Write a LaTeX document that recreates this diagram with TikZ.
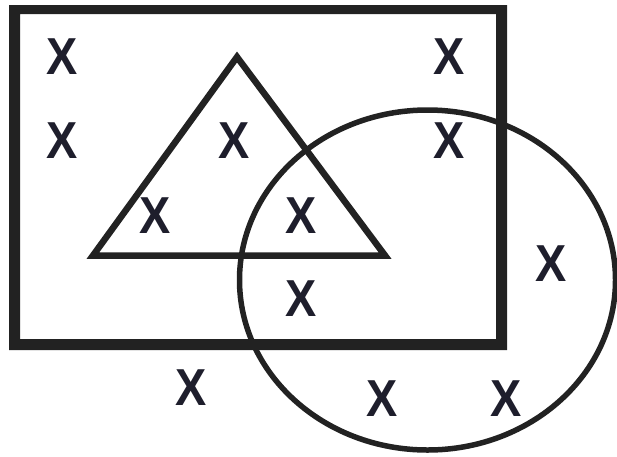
\documentclass[tikz,border=0pt]{standalone}
\usepackage{fontspec}
\setmainfont{Liberation Sans}
\usetikzlibrary{shapes.geometric}
\definecolor{ink}{HTML}{222222}
\definecolor{xcol}{HTML}{1E1E2C}
\begin{document}
\begin{tikzpicture}[x=1pt,y=-1pt,
  xlab/.style={inner sep=0pt,text=xcol,font=\fontsize{52}{52}\selectfont\bfseries,xscale=0.9},
  shapeline/.style={draw=ink,line join=miter}]
\useasboundingbox (0,0) rectangle (617,456);
% universal rectangle (filled frame)
\fill[ink,even odd rule] (9,5) rectangle (507,350) (20,14) rectangle (496,339);
% triangle
\coordinate (apex) at (237,57);
\coordinate (tl) at (93,255.5);
\coordinate (tr) at (385,255.5);
\draw[shapeline,line width=6.5pt] (apex) -- (tl) -- (tr) -- cycle;
% circle
\node[draw=ink,line width=5.5pt,ellipse,minimum width=376pt,minimum height=340pt,inner sep=0pt] (circ) at (427.5,280) {};
% X marks
\node[xlab] (x1) at (62,57) {X};
\node[xlab] (x2) at (449,57) {X};
\node[xlab] (x3) at (62,141) {X};
\node[xlab] (x4) at (234,141) {X};
\node[xlab] (x5) at (449,141) {X};
\node[xlab] (x6) at (155,216) {X};
\node[xlab] (x7) at (301,216) {X};
\node[xlab] (x8) at (551,264) {X};
\node[xlab] (x9) at (301,299) {X};
\node[xlab] (x10) at (191,388) {X};
\node[xlab] (x11) at (382,399) {X};
\node[xlab] (x12) at (506,399) {X};
\end{tikzpicture}
\end{document}
